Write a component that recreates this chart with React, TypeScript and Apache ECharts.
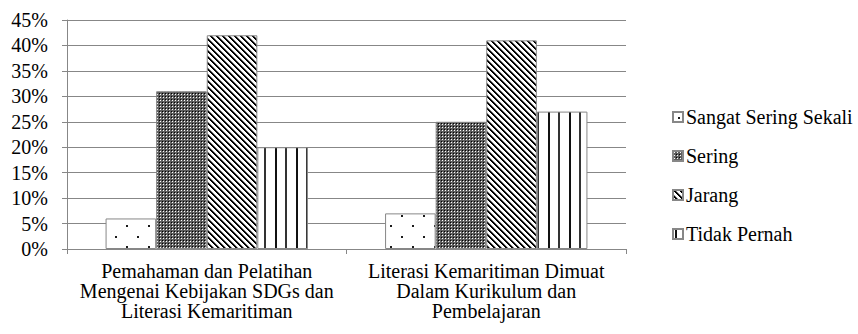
import React, { useEffect, useRef } from "react";
import * as echarts from "echarts";

const categories = [
  "Pemahaman dan Pelatihan\nMengenai Kebijakan SDGs dan\nLiterasi Kemaritiman",
  "Literasi Kemaritiman Dimuat\nDalam Kurikulum dan\nPembelajaran",
];
const seriesNames = ["Sangat Sering Sekali", "Sering", "Jarang", "Tidak Pernah"];
const sangatSeringSekali = [6, 7];
const sering = [31, 25];
const jarang = [42, 41];
const tidakPernah = [20, 27];
const yTicks = { min: 0, max: 45, interval: 5 };

const FONT = "Liberation Serif";

function makeTile(w: number, h: number, draw: (ctx: CanvasRenderingContext2D) => void) {
  const c = document.createElement("canvas");
  c.width = w;
  c.height = h;
  const ctx = c.getContext("2d")!;
  draw(ctx);
  return { image: c.toDataURL(), repeat: "repeat", imageWidth: w, imageHeight: h } as any;
}

function patterns() {
  const dots = makeTile(22, 21, (ctx) => {
    ctx.fillStyle = "#ffffff";
    ctx.fillRect(0, 0, 22, 21);
    ctx.fillStyle = "#1a1a1a";
    ctx.fillRect(5, 5, 2, 2);
    ctx.fillRect(16, 15, 2, 2);
  });
  const check = makeTile(3, 3, (ctx) => {
    ctx.fillStyle = "#5e5e5e";
    ctx.fillRect(0, 0, 3, 3);
    ctx.fillStyle = "#ffffff";
    ctx.fillRect(1, 1, 1, 1);
    ctx.fillStyle = "#000000";
    ctx.fillRect(0, 0, 1, 1);
  });
  const diag = makeTile(6, 6, (ctx) => {
    ctx.fillStyle = "#ffffff";
    ctx.fillRect(0, 0, 6, 6);
    for (let y = 0; y < 6; y++) {
      for (let x = 0; x < 6; x++) {
        const m = (((x - y) % 6) + 6) % 6;
        if (m === 0 || m === 1) {
          ctx.fillStyle = "#000000";
          ctx.fillRect(x, y, 1, 1);
        } else if (m === 2) {
          ctx.fillStyle = "#888888";
          ctx.fillRect(x, y, 1, 1);
        }
      }
    }
  });
  const vert = makeTile(21, 4, (ctx) => {
    ctx.fillStyle = "#ffffff";
    ctx.fillRect(0, 0, 21, 4);
    ctx.fillStyle = "#111111";
    ctx.fillRect(2, 0, 2, 4);
    ctx.fillStyle = "#333333";
    ctx.fillRect(12, 0, 2, 4);
  });
  return [dots, check, diag, vert];
}

export default function App() {
  const ref = useRef<HTMLDivElement>(null);
  useEffect(() => {
    if (!ref.current) return;
    const chart = echarts.init(ref.current, null, { renderer: "svg" });
    const pats = patterns();
    const values = [sangatSeringSekali, sering, jarang, tidakPernah];
    const gray = "#878787";
    chart.setOption({
      animation: false,
      backgroundColor: "#ffffff",
      textStyle: { fontFamily: FONT },
      grid: { left: 67, right: 232, top: 20, bottom: 85, containLabel: false },
      legend: {
        orient: "vertical",
        left: 667,
        top: 102,
        itemWidth: 10,
        itemHeight: 10,
        itemGap: 19,
        icon: "rect",
        data: seriesNames,
        textStyle: { fontFamily: FONT, fontSize: 20, color: "#000", lineHeight: 20, padding: [0, 0, 0, -2] },
      },
      xAxis: {
        type: "category",
        data: categories,
        axisLine: { lineStyle: { color: gray, width: 1 } },
        axisTick: { show: true, length: 5, lineStyle: { color: gray } },
        axisLabel: {
          interval: 0,
          margin: 12,
          fontFamily: FONT,
          fontSize: 20,
          lineHeight: 20,
          color: "#000",
          align: "center",
        },
      },
      yAxis: {
        type: "value",
        min: yTicks.min,
        max: yTicks.max,
        interval: yTicks.interval,
        axisLine: { show: true, lineStyle: { color: gray, width: 1 } },
        axisTick: { show: true, length: 5, lineStyle: { color: gray } },
        splitLine: { show: true, lineStyle: { color: gray, width: 1 } },
        axisLabel: {
          formatter: "{value}%",
          margin: 19,
          fontFamily: FONT,
          fontSize: 20,
          color: "#000",
        },
      },
      series: seriesNames.map((name, i) => ({
        name,
        type: "bar",
        data: values[i],
        barGap: "0%",
        barCategoryGap: "27.6%",
        itemStyle: { color: pats[i], borderColor: gray, borderWidth: 1 },
        emphasis: { disabled: true },
      })),
    });
    return () => chart.dispose();
  }, []);
  return (
    <div
      ref={ref}
      style={{ position: "fixed", left: 0, top: 0, width: 858, height: 334, background: "#fff" }}
    />
  );
}
